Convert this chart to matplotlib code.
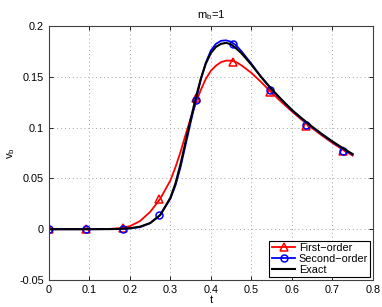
import numpy as np
import matplotlib
matplotlib.use('Agg')
import matplotlib.pyplot as plt

plt.rcParams['font.family'] = ['Liberation Sans', 'DejaVu Sans']
plt.rcParams['mathtext.default'] = 'regular'

# curve samples
t = [0, 0.05, 0.1, 0.15, 0.175, 0.2, 0.225, 0.25, 0.275, 0.3, 0.3125, 0.325,
     0.3375, 0.35, 0.3625, 0.375, 0.3875, 0.4, 0.4125, 0.425, 0.4375, 0.45,
     0.4625, 0.475, 0.5, 0.525, 0.55, 0.575, 0.6, 0.625, 0.65, 0.675, 0.7,
     0.725, 0.75]
exact = [0, 0, 0, 0.0001, 0.0003, 0.001, 0.0025, 0.006, 0.014, 0.031, 0.045,
         0.064, 0.086, 0.108, 0.129, 0.148, 0.163, 0.1735, 0.1795, 0.1825,
         0.1835, 0.182, 0.178, 0.1735, 0.162, 0.1495, 0.138, 0.1275, 0.1175,
         0.109, 0.101, 0.0935, 0.0865, 0.080, 0.074]
second = [0, 0, 0, 0.0001, 0.0002, 0.0008, 0.002, 0.006, 0.014, 0.030, 0.043,
          0.061, 0.083, 0.105, 0.126, 0.147, 0.164, 0.176, 0.1825, 0.1855,
          0.186, 0.1845, 0.181, 0.1755, 0.163, 0.1495, 0.1375, 0.127, 0.117,
          0.1085, 0.1005, 0.093, 0.086, 0.0795, 0.0735]
first = [0, 0, 0, 0.0003, 0.001, 0.003, 0.008, 0.017, 0.030, 0.048, 0.061,
         0.076, 0.093, 0.109, 0.124, 0.137, 0.148, 0.156, 0.161, 0.1645,
         0.166, 0.166, 0.1645, 0.1615, 0.154, 0.1445, 0.1345, 0.125, 0.116,
         0.1075, 0.0995, 0.092, 0.085, 0.0785, 0.0725]

# marker points
t_mk = [0, 0.091, 0.182, 0.273, 0.364, 0.455, 0.545, 0.636, 0.727]
first_mk = [0, 0, 0.001, 0.030, 0.129, 0.165, 0.135, 0.102, 0.077]
second_mk = [0, 0, 0, 0.014, 0.127, 0.182, 0.137, 0.103, 0.0775]

xticks = [0, 0.1, 0.2, 0.3, 0.4, 0.5, 0.6, 0.7, 0.8]
xlabels = ['0', '0.1', '0.2', '0.3', '0.4', '0.5', '0.6', '0.7', '0.8']
yticks = [-0.05, 0, 0.05, 0.1, 0.15, 0.2]
ylabels = ['-0.05', '0', '0.05', '0.1', '0.15', '0.2']

fig = plt.figure(figsize=(3.82, 3.07), dpi=100)
ax = fig.add_axes([0.128, 0.088, 0.848, 0.827])

ax.plot(t, first, color='red', lw=1.3)
ax.plot(t_mk, first_mk, '^', color='red', mfc='none', ms=5.5, mew=1.1)
ax.plot(t, second, color='blue', lw=1.3)
ax.plot(t_mk, second_mk, 'o', color='blue', mfc='none', ms=5, mew=1.1)
ax.plot(t, exact, color='black', lw=1.5)

# legend handles
h1, = ax.plot([], [], '-^', color='red', mfc='none', ms=5.5, mew=1.1, lw=1.3)
h2, = ax.plot([], [], '-o', color='blue', mfc='none', ms=5, mew=1.1, lw=1.3)
h3, = ax.plot([], [], '-', color='black', lw=1.5)
leg = ax.legend([h1, h2, h3], ['First\u2212order', 'Second\u2212order', 'Exact'],
                loc='lower right', fontsize=7.8, fancybox=False, framealpha=1,
                edgecolor='black', borderpad=0.2, labelspacing=0.1,
                handlelength=2.2, handletextpad=0.3, borderaxespad=0.25)
leg.get_frame().set_linewidth(0.8)

ax.set_xlim(0, 0.8)
ax.set_ylim(-0.05, 0.2)
ax.set_xticks(xticks)
ax.set_xticklabels(xlabels)
ax.set_yticks(yticks)
ax.set_yticklabels(ylabels)
ax.tick_params(direction='in', labelsize=7.8, length=3, width=0.6, top=True, right=True)
ax.grid(True, linestyle=(0, (1, 3)), color='#a0a0a0', lw=0.7)
for s in ax.spines.values():
    s.set_linewidth(0.8)
    s.set_color('#404040')

ax.set_title('m$_b$=1', fontsize=8, pad=6)
ax.set_xlabel('t', fontsize=8, labelpad=0)
ax.set_ylabel('v$_b$', fontsize=8, labelpad=2)

fig.savefig('out.png', dpi=100)
